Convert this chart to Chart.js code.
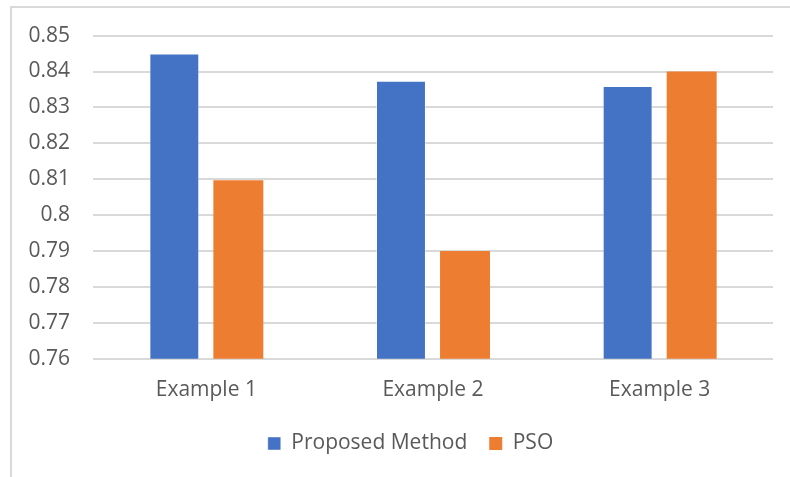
<!DOCTYPE html>
<html>
<head>
<meta charset="utf-8">
<script src="https://cdn.jsdelivr.net/npm/chart.js@4"></script>
<style>
  html, body { margin: 0; padding: 0; background: #ffffff; }
  #wrap { position: relative; width: 790px; height: 477px; overflow: hidden; }
  #frame { position: absolute; left: 10px; top: 6px; width: 820px; height: 520px;
           border: 2px solid #d9d9d9; box-sizing: border-box; pointer-events: none; }
  canvas { position: absolute; left: 0; top: 0; }
</style>
</head>
<body>
<div id="wrap">
  <canvas id="c" width="790" height="477"></canvas>
  <div id="frame"></div>
</div>
<script>
const categories = ["Example 1", "Example 2", "Example 3"];
const proposedMethod = [0.845, 0.8374, 0.836];
const pso = [0.8097, 0.79, 0.84];
const yTicks = [0.76, 0.77, 0.78, 0.79, 0.80, 0.81, 0.82, 0.83, 0.84, 0.85];

const FONT = "'Open Sans', sans-serif";
const TEXT = "#595959";

// Centre the legend on the outer frame rather than on the plot box.
const legendShift = {
  id: "legendShift",
  afterLayout(chart) {
    const lg = chart.legend;
    if (lg) { lg.left += 24; lg.right += 24; }
  }
};

new Chart(document.getElementById("c"), {
  type: "bar",
  data: {
    labels: categories,
    datasets: [
      { label: "Proposed Method", data: proposedMethod, backgroundColor: "#4472C4",
        borderColor: "rgba(255,255,255,0.45)", borderWidth: 1,
        categoryPercentage: 0.565, barPercentage: 0.78 },
      { label: "PSO", data: pso, backgroundColor: "#ED7D31",
        borderWidth: 0,
        categoryPercentage: 0.565, barPercentage: 0.78 }
    ]
  },
  options: {
    responsive: false,
    animation: false,
    devicePixelRatio: 1,
    layout: { padding: { top: 29, right: 17, bottom: 13, left: 0 } },
    plugins: {
      tooltip: { enabled: false },
      legend: {
        position: "bottom",
        labels: {
          font: { family: FONT, size: 21 }, color: TEXT,
          boxWidth: 13, boxHeight: 13, padding: 22, useBorderRadius: false
        }
      }
    },
    scales: {
      x: {
        afterFit: (s) => { s.height -= 11; },
        grid: { display: false, drawTicks: false },
        border: { display: false },
        ticks: { font: { family: FONT, size: 21 }, color: TEXT, padding: 19 }
      },
      y: {
        min: 0.76, max: 0.85,
        afterFit: (s) => { s.width = 93; },
        afterBuildTicks: (s) => { s.ticks = yTicks.map(v => ({ value: v })); },
        grid: { color: "#d9d9d9", lineWidth: 2, drawTicks: false },
        border: { display: false },
        ticks: {
          font: { family: FONT, size: 21 }, color: TEXT, padding: 23,
          callback: (v) => String(parseFloat(v.toFixed(2)))
        }
      }
    }
  },
  plugins: [legendShift]
});
</script>
</body>
</html>
